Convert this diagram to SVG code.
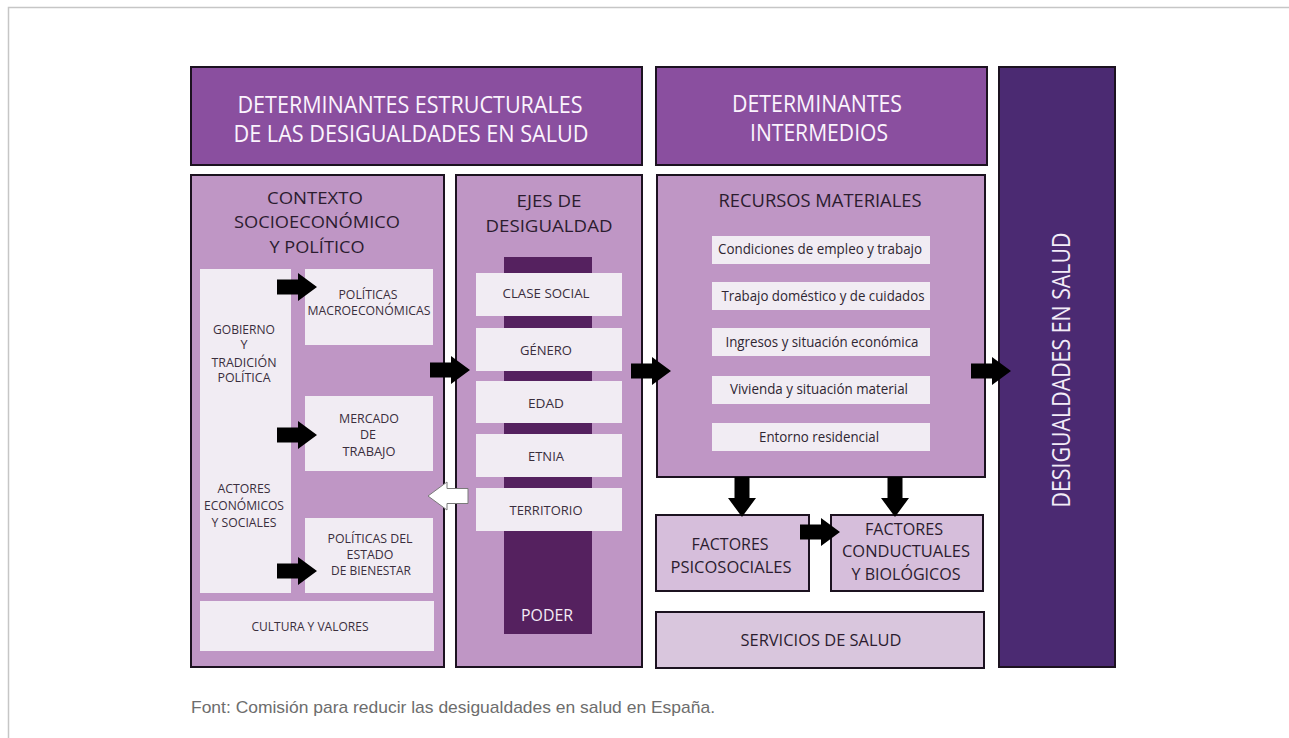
<svg xmlns="http://www.w3.org/2000/svg" width="1289" height="738" viewBox="0 0 1289 738">
<style>
text{font-family:"Open Sans","Noto Sans","Liberation Sans",sans-serif;text-anchor:middle}
.box{stroke:#1c1220;stroke-width:2}
.hdr{fill:#8a4f9f}
.mid{fill:#bf96c5}
.lite{fill:#f1ecf3}
.fac{fill:#d6bedb}
.dark{fill:#4b2a72}
.col{fill:#55215f}
.hd{font-size:23px;fill:#fbf4fd}
.t17{font-size:17px;fill:#2b1c2f}
.t13{font-size:13px;fill:#3a2e3d}
.t12{font-size:12.5px;fill:#3a2e3d}
.t14{font-size:14.5px;fill:#2f2632}
.cap{font-family:"Liberation Sans",Arial,sans-serif;font-size:17px;fill:#6d6d6d;text-anchor:start}
.arr{fill:#000}
.warr{fill:#ffffff;stroke:#7a7a7a;stroke-width:1}
</style>
<defs>
<path id="arrow" d="M0,-7.5 H21 V-14 L40,0 L21,14 V7.5 H0 Z"/>
</defs>
<rect width="1289" height="738" fill="#ffffff"/>
<path d="M8.5,738 V7.5 H1289" fill="none" stroke="#c6c6c6" stroke-width="1.5"/>

<g id="hdr-estructurales">
<rect class="box hdr" x="191" y="67" width="451" height="98"/>
<text class="hd" x="410" y="113" textLength="345" lengthAdjust="spacingAndGlyphs">DETERMINANTES ESTRUCTURALES</text>
<text class="hd" x="411" y="142" textLength="355" lengthAdjust="spacingAndGlyphs">DE LAS DESIGUALDADES EN SALUD</text>
</g>

<g id="hdr-intermedios">
<rect class="box hdr" x="656" y="67" width="331" height="98"/>
<text class="hd" x="817" y="111.5" textLength="170" lengthAdjust="spacingAndGlyphs">DETERMINANTES</text>
<text class="hd" x="819" y="140.5" textLength="138" lengthAdjust="spacingAndGlyphs">INTERMEDIOS</text>
</g>

<g id="desigualdades">
<rect class="box dark" x="999" y="67" width="116" height="600"/>
<text transform="translate(1070,370) rotate(-90)" style="font-size:25px;fill:#f3ecf8" textLength="275" lengthAdjust="spacingAndGlyphs">DESIGUALDADES EN SALUD</text>
</g>

<g id="contexto">
<rect class="box mid" x="191" y="175" width="253" height="492"/>
<text class="t17" x="315" y="204" textLength="96" lengthAdjust="spacingAndGlyphs">CONTEXTO</text>
<text class="t17" x="317" y="228" textLength="166" lengthAdjust="spacingAndGlyphs">SOCIOECONÓMICO</text>
<text class="t17" x="317" y="253" textLength="95" lengthAdjust="spacingAndGlyphs">Y POLÍTICO</text>
</g>

<g id="gobierno-actores">
<rect class="lite" x="200" y="269" width="91" height="324"/>
<text class="t12" x="244" y="333.5" textLength="62" lengthAdjust="spacingAndGlyphs">GOBIERNO</text>
<text class="t12" x="244" y="349">Y</text>
<text class="t12" x="244" y="366.5" textLength="65" lengthAdjust="spacingAndGlyphs">TRADICIÓN</text>
<text class="t12" x="244" y="382" textLength="53" lengthAdjust="spacingAndGlyphs">POLÍTICA</text>
<text class="t13" x="244" y="493" textLength="53" lengthAdjust="spacingAndGlyphs">ACTORES</text>
<text class="t13" x="244" y="510" textLength="80" lengthAdjust="spacingAndGlyphs">ECONÓMICOS</text>
<text class="t13" x="244" y="527" textLength="65" lengthAdjust="spacingAndGlyphs">Y SOCIALES</text>
</g>

<g id="politicas-macro">
<rect class="lite" x="305" y="269" width="128" height="76"/>
<text class="t13" x="368" y="299" textLength="59" lengthAdjust="spacingAndGlyphs">POLÍTICAS</text>
<text class="t13" x="369" y="315" textLength="123" lengthAdjust="spacingAndGlyphs">MACROECONÓMICAS</text>
</g>

<g id="mercado">
<rect class="lite" x="305" y="396" width="128" height="75"/>
<text class="t13" x="369" y="423" textLength="60" lengthAdjust="spacingAndGlyphs">MERCADO</text>
<text class="t13" x="368" y="439" textLength="16" lengthAdjust="spacingAndGlyphs">DE</text>
<text class="t13" x="369" y="456" textLength="53" lengthAdjust="spacingAndGlyphs">TRABAJO</text>
</g>

<g id="bienestar">
<rect class="lite" x="305" y="518" width="128" height="75"/>
<text class="t13" x="370" y="543" textLength="85" lengthAdjust="spacingAndGlyphs">POLÍTICAS DEL</text>
<text class="t13" x="370" y="559" textLength="47" lengthAdjust="spacingAndGlyphs">ESTADO</text>
<text class="t13" x="371" y="575" textLength="80" lengthAdjust="spacingAndGlyphs">DE BIENESTAR</text>
</g>

<g id="cultura">
<rect class="lite" x="200" y="601" width="234" height="50"/>
<text class="t13" x="310" y="631" textLength="117" lengthAdjust="spacingAndGlyphs">CULTURA Y VALORES</text>
</g>

<g id="ejes">
<rect class="box mid" x="456" y="175" width="186" height="492"/>
<text class="t17" x="549" y="207" textLength="65" lengthAdjust="spacingAndGlyphs">EJES DE</text>
<text class="t17" x="549" y="232" textLength="127" lengthAdjust="spacingAndGlyphs">DESIGUALDAD</text>
</g>

<g id="poder">
<rect class="col" x="504" y="257" width="88" height="377"/>
<text x="547" y="621" style="font-size:17px;fill:#f4ecf6" textLength="52" lengthAdjust="spacingAndGlyphs">PODER</text>
</g>

<g id="clase-social">
<rect class="lite" x="476" y="273" width="146" height="43"/>
<text class="t13" x="546" y="298" textLength="87" lengthAdjust="spacingAndGlyphs">CLASE SOCIAL</text>
</g>
<g id="genero">
<rect class="lite" x="476" y="328" width="146" height="43"/>
<text class="t13" x="546" y="355" textLength="52" lengthAdjust="spacingAndGlyphs">GÉNERO</text>
</g>
<g id="edad">
<rect class="lite" x="476" y="381" width="146" height="42"/>
<text class="t13" x="546" y="408" textLength="36" lengthAdjust="spacingAndGlyphs">EDAD</text>
</g>
<g id="etnia">
<rect class="lite" x="476" y="434" width="146" height="43"/>
<text class="t13" x="546" y="461" textLength="36" lengthAdjust="spacingAndGlyphs">ETNIA</text>
</g>
<g id="territorio">
<rect class="lite" x="476" y="488" width="146" height="43"/>
<text class="t13" x="546" y="515" textLength="73" lengthAdjust="spacingAndGlyphs">TERRITORIO</text>
</g>

<g id="recursos">
<rect class="box mid" x="657" y="175" width="328" height="302"/>
<text class="t17" x="820" y="207" style="font-size:18px" textLength="203" lengthAdjust="spacingAndGlyphs">RECURSOS MATERIALES</text>
</g>
<g id="condiciones">
<rect class="lite" x="712" y="236" width="218" height="28"/>
<text class="t14" x="820" y="254" textLength="204" lengthAdjust="spacingAndGlyphs">Condiciones de empleo y trabajo</text>
</g>
<g id="domestico">
<rect class="lite" x="712" y="282" width="218" height="28"/>
<text class="t14" x="823" y="301" textLength="203" lengthAdjust="spacingAndGlyphs">Trabajo doméstico y de cuidados</text>
</g>
<g id="ingresos">
<rect class="lite" x="712" y="328" width="218" height="28"/>
<text class="t14" x="822" y="347" textLength="193" lengthAdjust="spacingAndGlyphs">Ingresos y situación económica</text>
</g>
<g id="vivienda">
<rect class="lite" x="712" y="376" width="218" height="28"/>
<text class="t14" x="819" y="394" textLength="178" lengthAdjust="spacingAndGlyphs">Vivienda y situación material</text>
</g>
<g id="entorno">
<rect class="lite" x="712" y="423" width="218" height="28"/>
<text class="t14" x="819" y="442" textLength="120" lengthAdjust="spacingAndGlyphs">Entorno residencial</text>
</g>

<g id="psicosociales">
<rect class="box fac" x="656" y="515" width="153" height="76"/>
<text class="t17" x="730" y="550" textLength="77" lengthAdjust="spacingAndGlyphs">FACTORES</text>
<text class="t17" x="731" y="573" textLength="121" lengthAdjust="spacingAndGlyphs">PSICOSOCIALES</text>
</g>

<g id="conductuales">
<rect class="box fac" x="831" y="515" width="152" height="76"/>
<text class="t17" x="904" y="535" textLength="78" lengthAdjust="spacingAndGlyphs">FACTORES</text>
<text class="t17" x="906" y="557" textLength="128" lengthAdjust="spacingAndGlyphs">CONDUCTUALES</text>
<text class="t17" x="906" y="580" textLength="109" lengthAdjust="spacingAndGlyphs">Y BIOLÓGICOS</text>
</g>

<g id="servicios">
<rect class="box" fill="#d9c6dd" x="656" y="612" width="328" height="56"/>
<text class="t17" x="821" y="646" style="font-size:15.5px" textLength="161" lengthAdjust="spacingAndGlyphs">SERVICIOS DE SALUD</text>
</g>

<g id="connectors">
<use href="#arrow" class="arr" transform="translate(277,287)"/>
<use href="#arrow" class="arr" transform="translate(277,435)"/>
<use href="#arrow" class="arr" transform="translate(277,571)"/>
<use href="#arrow" class="arr" transform="translate(430,370)"/>
<use href="#arrow" class="arr" transform="translate(631,371)"/>
<use href="#arrow" class="arr" transform="translate(971,371)"/>
<use href="#arrow" class="arr" transform="translate(800,532)"/>
<use href="#arrow" class="arr" transform="translate(742,477) rotate(90)"/>
<use href="#arrow" class="arr" transform="translate(895,477) rotate(90)"/>
<use href="#arrow" class="warr" transform="translate(468,496) rotate(180)"/>
</g>

<text class="cap" x="191" y="713" textLength="524" lengthAdjust="spacingAndGlyphs">Font: Comisión para reducir las desigualdades en salud en España.</text>
</svg>
